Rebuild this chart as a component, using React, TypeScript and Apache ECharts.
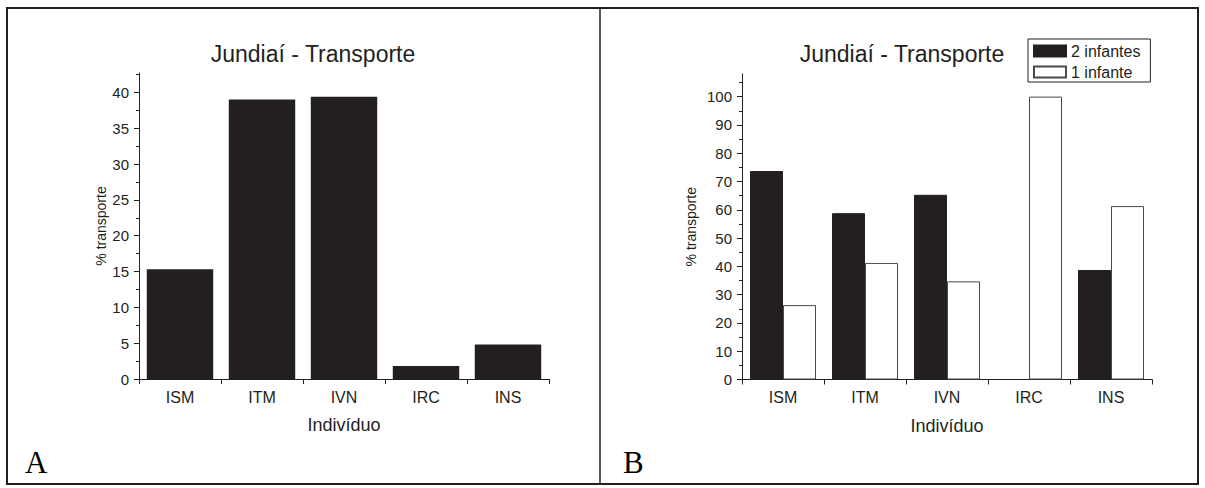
import React, { useEffect, useRef } from "react";
import * as echarts from "echarts";

const categories = ["ISM", "ITM", "IVN", "IRC", "INS"];
const transporteA = [15.3, 39.0, 39.4, 1.8, 4.8];
const doisInfantes = [73.7, 58.8, 65.3, 0, 38.7];
const umInfante = [26.3, 41.2, 34.7, 100, 61.3];
const yTicksA = [0, 5, 10, 15, 20, 25, 30, 35, 40];
const yMinorA = [2.5, 7.5, 12.5, 17.5, 22.5, 27.5, 32.5, 37.5, 42.5];
const yTicksB = [0, 10, 20, 30, 40, 50, 60, 70, 80, 90, 100];
const yMinorB = [5, 15, 25, 35, 45, 55, 65, 75, 85, 95, 105];
const titleText = "Jundiaí - Transporte";
const xName = "Indivíduo";
const yName = "% transporte";
const legendNames = ["2 infantes", "1 infante"];

const FONT = '"Liberation Sans", Arial, Helvetica, sans-serif';
const SERIF = '"Liberation Serif", "Times New Roman", serif';
const INK = "#231f20";

function xAxisFor(gridIndex: number) {
  return {
    gridIndex,
    type: "category",
    data: categories,
    axisLine: { show: true, lineStyle: { color: INK, width: 1 } },
    axisTick: { show: true, length: 5, lineStyle: { color: INK, width: 1 } },
    axisLabel: { color: INK, fontSize: 16, margin: 10, fontFamily: FONT },
    splitLine: { show: false },
    name: xName,
    nameLocation: "middle",
    nameGap: 37,
    nameTextStyle: { color: INK, fontSize: 18, fontFamily: FONT },
  };
}

function yAxesFor(gridIndex: number, max: number, majors: number[], minors: number[], nameGap: number) {
  return [
    {
      gridIndex,
      type: "value",
      min: 0,
      max,
      position: "left",
      axisLine: { show: true, lineStyle: { color: INK, width: 1 } },
      axisTick: { show: true, length: 5, customValues: majors, lineStyle: { color: INK, width: 1 } },
      axisLabel: { customValues: majors, color: INK, fontSize: 15, margin: 10, fontFamily: FONT },
      splitLine: { show: false },
      name: yName,
      nameLocation: "middle",
      nameGap,
      nameTextStyle: { color: INK, fontSize: 14, fontFamily: FONT },
    },
    {
      gridIndex,
      type: "value",
      min: 0,
      max,
      position: "left",
      offset: 0,
      axisLine: { show: false },
      axisTick: { show: true, length: 3, customValues: minors, lineStyle: { color: INK, width: 1 } },
      axisLabel: { show: false },
      splitLine: { show: false },
    },
  ];
}

export default function App() {
  const ref = useRef<HTMLDivElement>(null);
  useEffect(() => {
    document.body.style.margin = "0";
    if (!ref.current) return;
    const chart = echarts.init(ref.current, undefined, { renderer: "svg" });
    chart.setOption({
      animation: false,
      backgroundColor: "#ffffff",
      textStyle: { fontFamily: FONT, color: INK },
      grid: [
        { left: 139, top: 73, width: 410, height: 306, containLabel: false },
        { left: 742, top: 74, width: 410, height: 305.5, containLabel: false },
      ],
      xAxis: [xAxisFor(0), xAxisFor(1)],
      yAxis: [
        ...yAxesFor(0, 42.7, yTicksA, yMinorA, 30),
        ...yAxesFor(1, 108, yTicksB, yMinorB, 44),
      ],
      legend: {
        data: legendNames,
        orient: "vertical",
        left: 1028,
        top: 39,
        itemWidth: 32,
        itemHeight: 11,
        itemGap: 5,
        padding: [4, 10, 2, 5],
        borderColor: INK,
        borderWidth: 1,
        icon: "rect",
        textStyle: { fontSize: 16, color: INK, fontFamily: FONT },
      },
      series: [
        {
          type: "bar",
          name: "Transporte",
          xAxisIndex: 0,
          yAxisIndex: 0,
          data: transporteA,
          barCategoryGap: "19%",
          itemStyle: { color: INK },
        },
        {
          type: "bar",
          name: legendNames[0],
          xAxisIndex: 1,
          yAxisIndex: 2,
          data: doisInfantes,
          barGap: "0%",
          barCategoryGap: "19.5%",
          itemStyle: { color: INK, borderColor: INK, borderWidth: 1 },
        },
        {
          type: "bar",
          name: legendNames[1],
          xAxisIndex: 1,
          yAxisIndex: 2,
          data: umInfante,
          barGap: "0%",
          barCategoryGap: "19.5%",
          itemStyle: { color: "#ffffff", borderColor: "#4a4a4a", borderWidth: 1 },
        },
      ],
      graphic: [
        {
          type: "rect",
          shape: { x: 7, y: 8, width: 1191, height: 476 },
          style: { fill: "none", stroke: INK, lineWidth: 2 },
          silent: true,
        },
        {
          type: "line",
          shape: { x1: 600, y1: 8, x2: 600, y2: 484 },
          style: { stroke: INK, lineWidth: 1.5 },
          silent: true,
        },
        {
          type: "text",
          x: 313,
          y: 54,
          style: { text: titleText, fontSize: 23, fontFamily: FONT, fill: INK, textAlign: "center", textVerticalAlign: "middle" },
        },
        {
          type: "text",
          x: 902,
          y: 54,
          style: { text: titleText, fontSize: 23, fontFamily: FONT, fill: INK, textAlign: "center", textVerticalAlign: "middle" },
        },
        {
          type: "text",
          x: 25,
          y: 478,
          style: { text: "A", fontSize: 31, fontFamily: SERIF, fill: "#000", textAlign: "left", textVerticalAlign: "bottom" },
        },
        {
          type: "text",
          x: 623,
          y: 478,
          style: { text: "B", fontSize: 31, fontFamily: SERIF, fill: "#000", textAlign: "left", textVerticalAlign: "bottom" },
        },
      ],
    });
    return () => chart.dispose();
  }, []);
  return <div ref={ref} style={{ width: 1205, height: 488 }} />;
}
